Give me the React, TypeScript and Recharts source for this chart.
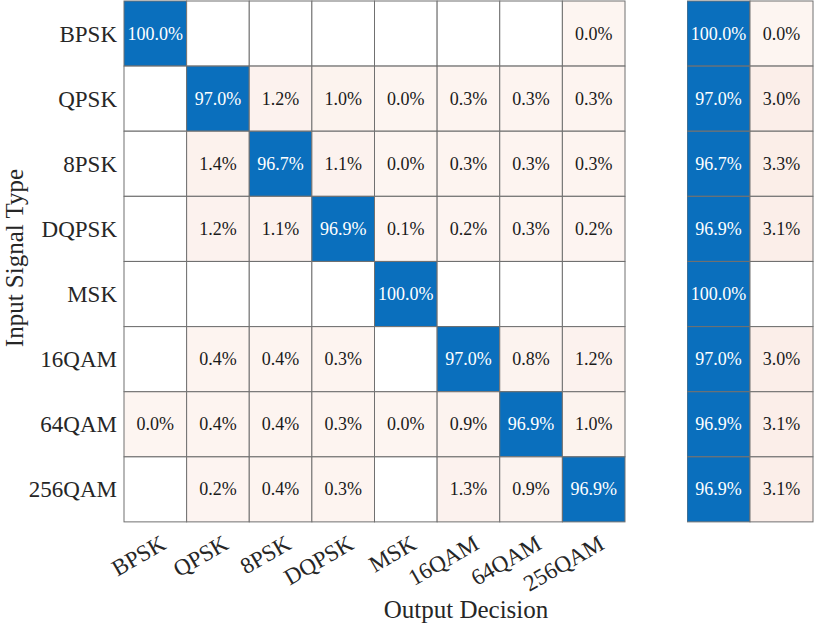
import { BarChart, Bar, XAxis, YAxis } from "recharts"

const classes = ["BPSK", "QPSK", "8PSK", "DQPSK", "MSK", "16QAM", "64QAM", "256QAM"]

// row-normalised percentages, one array per input type (null = empty cell)
const bpskRow = [100.0, null, null, null, null, null, null, 0.0]
const qpskRow = [null, 97.0, 1.2, 1.0, 0.0, 0.3, 0.3, 0.3]
const psk8Row = [null, 1.4, 96.7, 1.1, 0.0, 0.3, 0.3, 0.3]
const dqpskRow = [null, 1.2, 1.1, 96.9, 0.1, 0.2, 0.3, 0.2]
const mskRow = [null, null, null, null, 100.0, null, null, null]
const qam16Row = [null, 0.4, 0.4, 0.3, null, 97.0, 0.8, 1.2]
const qam64Row = [0.0, 0.4, 0.4, 0.3, 0.0, 0.9, 96.9, 1.0]
const qam256Row = [null, 0.2, 0.4, 0.3, null, 1.3, 0.9, 96.9]

// row summary
const rowCorrect = [100.0, 97.0, 96.7, 96.9, 100.0, 97.0, 96.9, 96.9]
const rowError = [0.0, 3.0, 3.3, 3.1, null, 3.0, 3.1, 3.1]

const matrix: (number | null)[][] = [bpskRow, qpskRow, psk8Row, dqpskRow, mskRow, qam16Row, qam64Row, qam256Row]
const summary: (number | null)[][] = rowCorrect.map((c, i) => [c, rowError[i]])

const FONT = "'Liberation Serif', 'Times New Roman', serif"
const BLUE = "#0a6fbd"
const GRID = "#707070"
const TEXT = "#262626"

function tint(v: number) {
  const a = 0.06 + v * 0.012
  const mix = (c: number) => Math.round(255 - a * (255 - c))
  return `rgb(${mix(217)},${mix(83)},${mix(25)})`
}

const mainData = classes.map((name) => {
  const d: any = { name }
  classes.forEach((_, j) => (d["c" + j] = 1))
  return d
})

const sumData = classes.map((name) => ({ name, c0: 1, c1: 1 }))

// draws one cell: box + percentage text
const cellShape = (vals: (number | null)[][], j: number, diagOf: (i: number, j: number) => boolean) => (p: any) => {
  const { x, y, width, height, index } = p
  const v = vals[index]?.[j]
  const diag = diagOf(index, j)
  const fill = v == null ? "#ffffff" : diag ? BLUE : tint(v)
  return (
    <g>
      <rect x={x} y={y} width={width} height={height} fill={fill} stroke={GRID} strokeWidth={1} />
      {v != null && (
        <text
          x={x + width / 2}
          y={y + height / 2 + 6}
          textAnchor="middle"
          fontFamily={FONT}
          fontSize={18}
          fill={diag ? "#ffffff" : "#1a1a1a"}
        >
          {v.toFixed(1)}%
        </text>
      )}
    </g>
  )
}

const XTick = ({ x, y, payload }: any) => {
  const name = classes[Math.floor(payload.value)]
  const tx = x + 12
  const ty = y + 26
  return (
    <text x={tx} y={ty} textAnchor="end" fontFamily={FONT} fontSize={23} fill={TEXT} transform={`rotate(-30, ${tx}, ${ty})`}>
      {name}
    </text>
  )
}

const YTick = ({ x, y, payload }: any) => (
  <text x={x} y={y + 8} textAnchor="end" fontFamily={FONT} fontSize={23} fill={TEXT}>
    {payload.value}
  </text>
)

export default function App() {
  return (
    <div style={{ position: "absolute", left: 0, top: 0, width: 814, height: 629, background: "#fff", fontFamily: FONT }}>
      <div style={{ position: "absolute", left: 0, top: 0 }}>
        <BarChart width={640} height={629} data={mainData} layout="vertical" barCategoryGap={0} margin={{ top: 1, right: 15, bottom: 0, left: 0 }}>
          <XAxis
            type="number"
            domain={[0, 8]}
            ticks={[0.5, 1.5, 2.5, 3.5, 4.5, 5.5, 6.5, 7.5]}
            height={107}
            axisLine={false}
            tickLine={false}
            tickSize={0}
            tickMargin={0}
            tick={<XTick />}
          />
          <YAxis type="category" dataKey="name" width={124} axisLine={false} tickLine={false} tickSize={0} tickMargin={7} tick={<YTick />} />
          {classes.map((_, j) => (
            <Bar
              key={j}
              dataKey={"c" + j}
              stackId="m"
              isAnimationActive={false}
              shape={cellShape(matrix, j, (i, jj) => i === jj)}
            />
          ))}
        </BarChart>
      </div>
      <div style={{ position: "absolute", left: 687, top: 0 }}>
        <BarChart width={127} height={629} data={sumData} layout="vertical" barCategoryGap={0} margin={{ top: 1, right: 1, bottom: 107, left: 0 }}>
          <XAxis type="number" domain={[0, 2]} hide />
          <YAxis type="category" dataKey="name" hide />
          {[0, 1].map((j) => (
            <Bar
              key={j}
              dataKey={"c" + j}
              stackId="s"
              isAnimationActive={false}
              shape={cellShape(summary, j, (_i, jj) => jj === 0)}
            />
          ))}
        </BarChart>
      </div>
      <svg width={814} height={629} style={{ position: "absolute", left: 0, top: 0, pointerEvents: "none" }}>
        <text x={23} y={258} textAnchor="middle" fontFamily={FONT} fontSize={25} fill={TEXT} transform="rotate(-90, 23, 258)">
          Input Signal Type
        </text>
        <text x={466} y={618} textAnchor="middle" fontFamily={FONT} fontSize={25} fill={TEXT}>
          Output Decision
        </text>
      </svg>
    </div>
  )
}
